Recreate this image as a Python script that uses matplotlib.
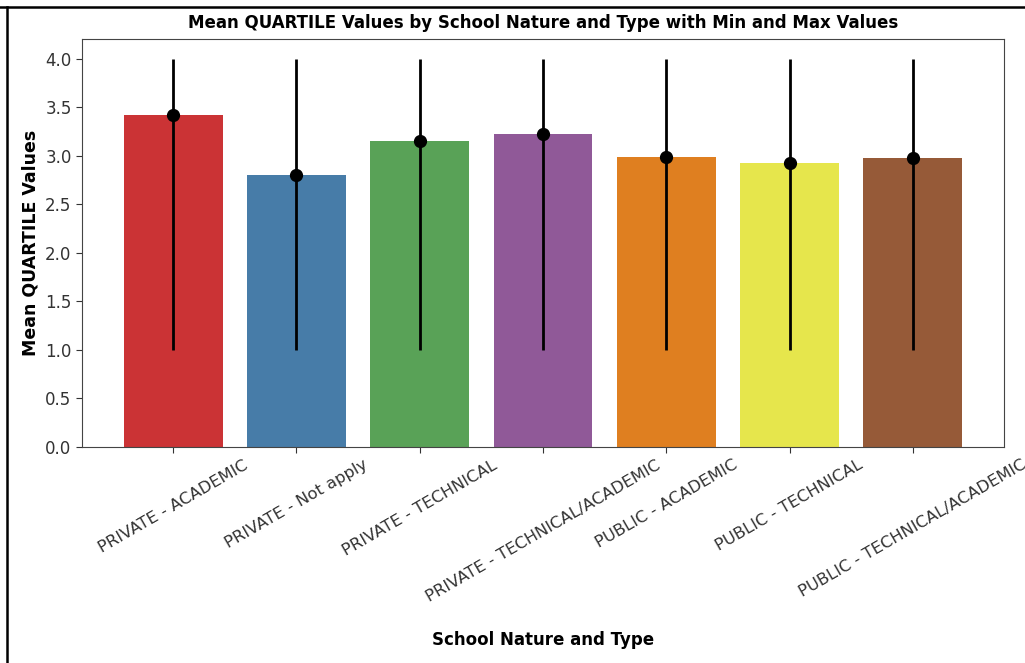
import colorsys

import matplotlib
matplotlib.use("Agg")
import matplotlib.pyplot as plt
import matplotlib.colors as mcolors
from matplotlib.lines import Line2D

# ===== data =====
categories = [
    "PRIVATE - ACADEMIC",
    "PRIVATE - Not apply",
    "PRIVATE - TECHNICAL",
    "PRIVATE - TECHNICAL/ACADEMIC",
    "PUBLIC - ACADEMIC",
    "PUBLIC - TECHNICAL",
    "PUBLIC - TECHNICAL/ACADEMIC",
]
mean_vals = [3.42, 2.80, 3.15, 3.22, 2.99, 2.92, 2.98]
min_vals = [1.0, 1.0, 1.0, 1.0, 1.0, 1.0, 1.0]
max_vals = [4.0, 4.0, 4.0, 4.0, 4.0, 4.0, 4.0]

# Set1 palette
set1 = ["#e41a1c", "#377eb8", "#4daf4a", "#984ea3", "#ff7f00", "#ffff33", "#a65628"]


def _desat(c, prop=0.75):
    h, l, s = colorsys.rgb_to_hls(*mcolors.to_rgb(c))
    return colorsys.hls_to_rgb(h, l, s * prop)


colors = [_desat(c) for c in set1]

plt.rcParams["font.family"] = ["DejaVu Sans"]

fig = plt.figure(figsize=(10.25, 6.63), dpi=100)
ax = fig.add_axes([0.080, 0.326, 0.8995, 0.615])

x = range(len(categories))
ax.bar(x, mean_vals, width=0.8, color=colors)

lower = [m - lo for m, lo in zip(mean_vals, min_vals)]
upper = [hi - m for m, hi in zip(mean_vals, max_vals)]
ax.errorbar(x, mean_vals, yerr=[lower, upper], fmt="o", color="black",
            ecolor="black", elinewidth=2, markersize=8.5, capsize=0)

ax.set_xticks(list(x))
ax.set_xticklabels(categories, rotation=30, fontsize=11.8)
ax.tick_params(axis="y", labelsize=12)
for sp in ax.spines.values():
    sp.set_color("#444444")
ax.tick_params(colors="#333333", length=4)

ax.set_title("Mean QUARTILE Values by School Nature and Type with Min and Max Values",
             fontsize=12, fontweight="bold", pad=8)
ax.set_xlabel("School Nature and Type", fontsize=12, fontweight="bold", labelpad=19)
ax.set_ylabel("Mean QUARTILE Values", fontsize=12.5, fontweight="bold")

# frame lines along the top and left edges
fig.add_artist(Line2D([0, 1], [1 - 7 / 663, 1 - 7 / 663], transform=fig.transFigure,
                      color="black", linewidth=1.8))
fig.add_artist(Line2D([7 / 1025, 7 / 1025], [0, 1 - 7 / 663], transform=fig.transFigure,
                      color="black", linewidth=1.8))

fig.savefig("out.png", dpi=100)
plt.close(fig)
